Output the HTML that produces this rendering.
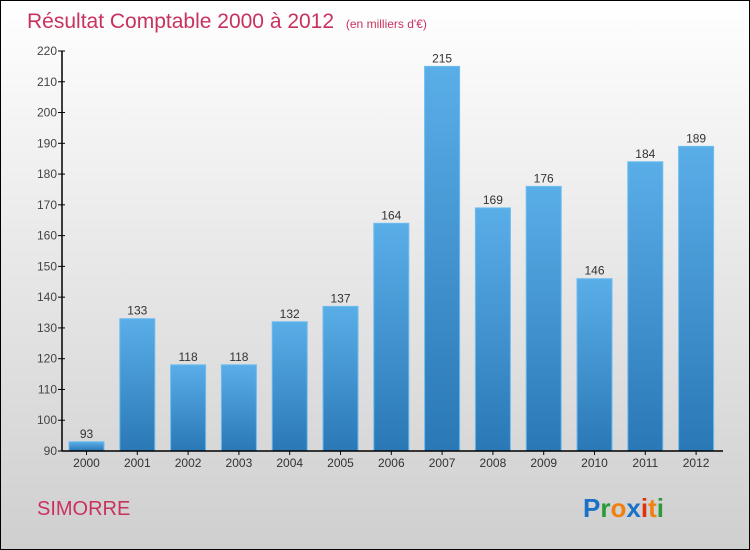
<!DOCTYPE html>
<html><head><meta charset="utf-8"><style>
body{margin:0}
#c{width:750px;height:550px;position:relative;box-sizing:border-box;border:1px solid #000;background:linear-gradient(#ffffff,#f0f0f0 30%,#cfcfcf);font-family:"Liberation Sans",sans-serif;overflow:hidden}
svg{position:absolute;left:0;top:0}
</style></head><body>
<div id="c">
<svg id="s" width="750" height="550">
<defs><linearGradient id="g" x1="0" y1="0" x2="0" y2="1"><stop offset="0" stop-color="#5aaee8"/><stop offset="1" stop-color="#2a78b6"/></linearGradient></defs>
<text x="26" y="27" font-size="21" fill="#c8325e">Résultat Comptable 2000 à 2012 <tspan font-size="12" dx="6">(en milliers d'€)</tspan></text>
<text x="36" y="514" font-size="20" fill="#c8325e">SIMORRE</text>
<text x="582" y="516" font-size="26" font-weight="bold"><tspan fill="#1a72c8">P</tspan><tspan fill="#2a9a3a">r</tspan><tspan fill="#f08010">o</tspan><tspan fill="#1a72c8">x</tspan><tspan fill="#e03010">i</tspan><tspan fill="#f08010">t</tspan><tspan fill="#2a9a3a">i</tspan></text>
</svg>
</div>
<script>
const categories=["2000","2001","2002","2003","2004","2005","2006","2007","2008","2009","2010","2011","2012"];
const values=[93,133,118,118,132,137,164,215,169,176,146,184,189];
const yTicks=[90,100,110,120,130,140,150,160,170,180,190,200,210,220];
const s=document.getElementById('s');const NS="http://www.w3.org/2000/svg";
const yMin=90,yMax=220,pTop=50,pBot=450,pLeft=61,pRight=722;
const y=v=>pBot-(v-yMin)/(yMax-yMin)*(pBot-pTop);
const step=50.8,x0=85.5;const xc=i=>x0+i*step;
function mk(t,a){const e=document.createElementNS(NS,t);for(const k in a)e.setAttribute(k,a[k]);s.appendChild(e);return e;}
yTicks.forEach(t=>{
 const l=mk('line',{x1:pLeft-4,x2:pLeft+3,y1:y(t),y2:y(t),stroke:'#000'});
 
 
 const tx=mk('text',{x:pLeft-5,y:y(t)+4,'text-anchor':'end','font-size':12,fill:'#444'});tx.textContent=t;
 
 
});
categories.forEach((c,i)=>{
 const v=values[i];
 const r=mk('rect',{x:xc(i)-17.5,y:y(v),width:35,height:pBot-y(v),fill:'url(#g)',stroke:'#6cbcf0','stroke-width':1});
 
 
 const vt=mk('text',{x:xc(i),y:y(v)-4,'text-anchor':'middle','font-size':12,fill:'#333'});vt.textContent=v;
 
 
 const tk=mk('line',{x1:xc(i),x2:xc(i),y1:pBot,y2:pBot+4,stroke:'#000'});
 
 
 const xt=mk('text',{x:xc(i),y:pBot+16,'text-anchor':'middle','font-size':12,fill:'#333'});xt.textContent=c;
 
 
});
const ya=mk('line',{x1:pLeft,x2:pLeft,y1:pTop,y2:pBot,stroke:'#000','stroke-width':1.5});


const xa=mk('line',{x1:pLeft,x2:pRight,y1:pBot,y2:pBot,stroke:'#000','stroke-width':1.5});


</script>
</body></html>
